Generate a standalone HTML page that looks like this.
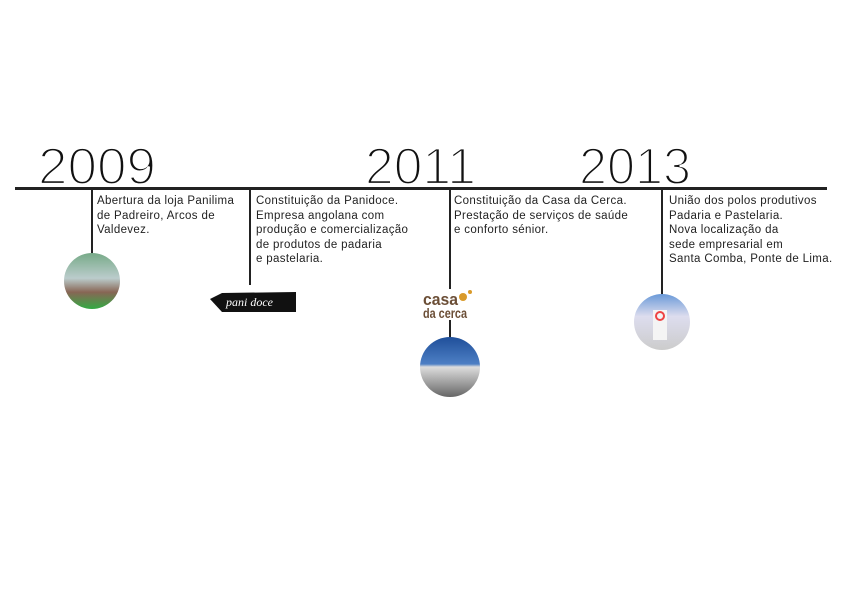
<!DOCTYPE html>
<html><head><meta charset="utf-8"><style>
body{margin:0;background:#fff;}
.p{position:absolute;font-family:"Liberation Sans",sans-serif;font-size:11.5px;letter-spacing:0.35px;line-height:14.5px;color:#222;white-space:nowrap;}
</style></head><body>
<div style="position:relative;width:843px;height:596px;overflow:hidden;">
<svg width="843" height="596" style="position:absolute;left:0;top:0">
<defs>
<linearGradient id="g1" x1="0" y1="0" x2="0" y2="1"><stop offset="0" stop-color="#7a8"/><stop offset="0.45" stop-color="#bcc"/><stop offset="0.7" stop-color="#865"/><stop offset="1" stop-color="#3a4"/></linearGradient>
<linearGradient id="g2" x1="0" y1="0" x2="0" y2="1"><stop offset="0" stop-color="#1f4f9a"/><stop offset="0.45" stop-color="#4d7fc4"/><stop offset="0.5" stop-color="#ddd"/><stop offset="1" stop-color="#666"/></linearGradient>
<linearGradient id="g3" x1="0" y1="0" x2="0" y2="1"><stop offset="0" stop-color="#6a9ad8"/><stop offset="0.4" stop-color="#dde"/><stop offset="1" stop-color="#ccc"/></linearGradient>
</defs>
<g font-family="Liberation Sans, sans-serif" font-size="52" fill="#111" stroke="#fff" stroke-width="2.2">
<text x="38" y="184" textLength="118" lengthAdjust="spacingAndGlyphs">2009</text>
<text x="365" y="184" textLength="111" lengthAdjust="spacingAndGlyphs">2011</text>
<text x="579" y="184" textLength="112" lengthAdjust="spacingAndGlyphs">2013</text>
</g>
<rect x="15" y="187" width="812" height="3" fill="#222"/>
<rect x="91" y="189" width="2" height="65" fill="#222"/>
<rect x="249" y="189" width="2" height="96" fill="#222"/>
<rect x="449" y="189" width="2" height="100" fill="#222"/>
<rect x="449" y="320" width="2" height="18" fill="#222"/>
<rect x="661" y="189" width="2" height="106" fill="#222"/>
<circle cx="92" cy="281" r="28" fill="url(#g1)"/>
<circle cx="450" cy="367" r="30" fill="url(#g2)"/>
<circle cx="662" cy="322" r="28" fill="url(#g3)"/>
<rect x="653" y="310" width="14" height="30" fill="#f4f4f4"/>
<circle cx="660" cy="316" r="4" fill="none" stroke="#e44" stroke-width="2"/>
<path d="M210 299 L222 293 L296 292 L296 312 L222 312 Z" fill="#111"/>
<text x="226" y="306" font-family="Liberation Serif, serif" font-style="italic" font-size="12" fill="#fff">pani doce</text>
<text x="423" y="305" font-family="Liberation Sans, sans-serif" font-weight="bold" font-size="17" fill="#6b4e36" textLength="35" lengthAdjust="spacingAndGlyphs">casa</text>
<circle cx="463" cy="297" r="4" fill="#d99a2a"/>
<circle cx="470" cy="292" r="2" fill="#d99a2a"/>
<text x="423" y="318" font-family="Liberation Sans, sans-serif" font-weight="bold" font-size="14" fill="#6b4e36" textLength="44" lengthAdjust="spacingAndGlyphs">da cerca</text>
</svg>
<div class="p" style="left:97px;top:194px">Abertura da loja Panilima<br>de Padreiro, Arcos de<br>Valdevez.</div>
<div class="p" style="left:256px;top:194px">Constituição da Panidoce.<br>Empresa angolana com<br>produção e comercialização<br>de produtos de padaria<br>e pastelaria.</div>
<div class="p" style="left:454px;top:194px">Constituição da Casa da Cerca.<br>Prestação de serviços de saúde<br>e conforto sénior.</div>
<div class="p" style="left:669px;top:194px">União dos polos produtivos<br>Padaria e Pastelaria.<br>Nova localização da<br>sede empresarial em<br>Santa Comba, Ponte de Lima.</div>
</div>
</body></html>
